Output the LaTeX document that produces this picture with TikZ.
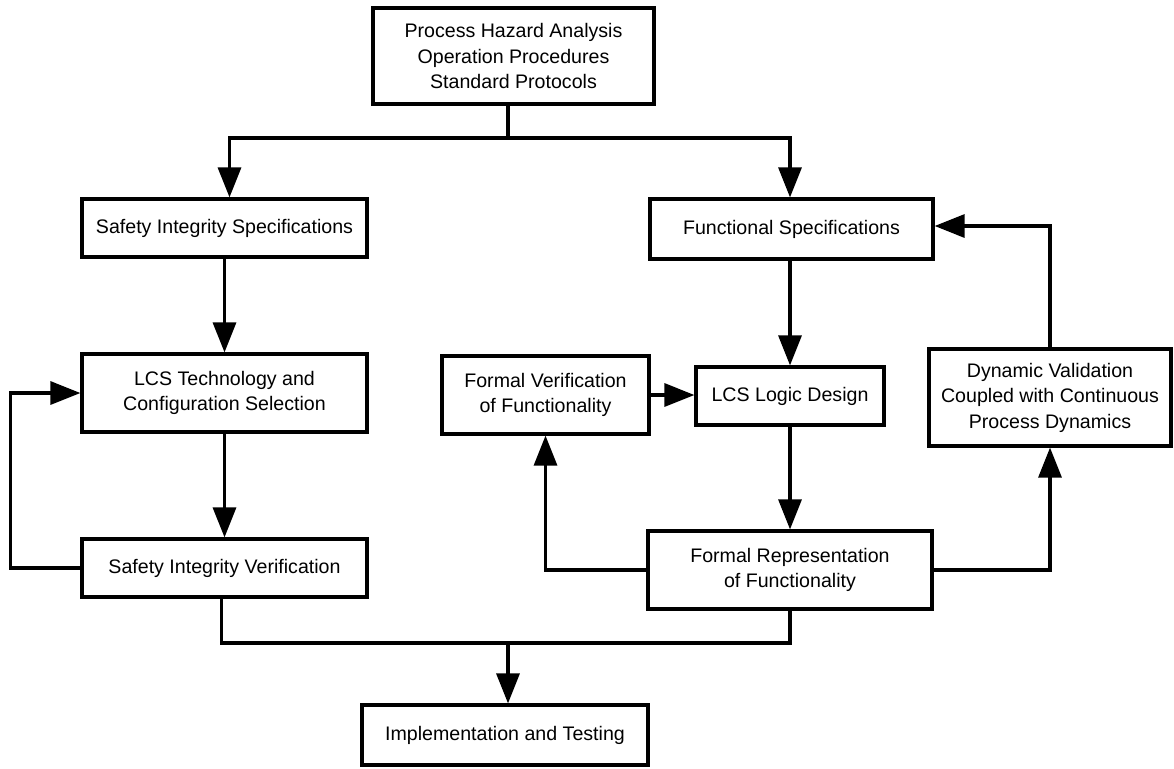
\documentclass[tikz,border=0pt]{standalone}
\usepackage{fontspec}
\setmainfont{Liberation Sans}
\usetikzlibrary{arrows.meta,calc}
\tikzset{
  box/.style={draw, line width=3.2pt, align=center, inner sep=0pt,
    font=\fontsize{19.6}{25.5}\selectfont},
  link/.style={line width=3.2pt},
  arr/.style={link, -{Triangle[length=30pt,width=23pt]}}
}
\begin{document}
\begin{tikzpicture}[x=1pt,y=-1pt]
\useasboundingbox (0,0) rectangle (1174,768);
% boxes
\node[box, minimum width=281pt, minimum height=96pt] (top) at (513.5,56)
  {Process Hazard Analysis\\Operation Procedures\\Standard Protocols};
\node[box, minimum width=285pt, minimum height=58pt] (sis) at (224.5,228)
  {Safety Integrity Specifications};
\node[box, minimum width=285pt, minimum height=78pt] (lct) at (224.5,393)
  {LCS Technology and\\Configuration Selection};
\node[box, minimum width=285pt, minimum height=58pt] (siv) at (224.5,568)
  {Safety Integrity Verification};
\node[box, minimum width=283pt, minimum height=60pt] (fs) at (791.5,229)
  {Functional Specifications};
\node[box, minimum width=188pt, minimum height=58pt] (ld) at (790,396)
  {LCS Logic Design};
\node[box, minimum width=207pt, minimum height=78pt] (fv) at (545.5,395)
  {Formal Verification\\of Functionality};
\node[box, minimum width=284pt, minimum height=78pt] (frf) at (790,570)
  {Formal Representation\\of Functionality};
\node[box, minimum width=242pt, minimum height=97pt] (dv) at (1050,397.5)
  {Dynamic Validation\\Coupled with Continuous\\Process Dynamics};
\node[box, minimum width=286pt, minimum height=60pt] (impl) at (505,735)
  {Implementation and Testing};
% branch and join points
\coordinate (split) at (508,138);
\coordinate (join) at (508,643);
% top split
\draw[link] (top.south -| split) -- (split);
\draw[arr] (split) -| ([xshift=5pt]sis.north);
\draw[arr] (split) -| (fs.north -| ld);
% left column
\draw[arr] (sis) -- (lct);
\draw[arr] (lct) -- (siv);
\draw[arr] (siv.west) -- ++(-70,0) |- (lct.west);
% right column
\draw[arr] (fs.south -| ld) -- (ld);
\draw[arr] (ld) -- (frf);
\draw[arr] (fv.east) -- (fv.east -| ld.west);
\draw[arr] (frf.west) -| (fv.south);
\draw[arr] (frf.east) -| (dv.south);
\draw[arr] (dv.north) |- ([yshift=3pt]fs.east);
% join to implementation
\draw[link] ([xshift=-3pt]siv.south) |- (join);
\draw[link] (frf.south) |- (join);
\draw[arr] (join) -- (join |- impl.north);
\end{tikzpicture}
\end{document}
